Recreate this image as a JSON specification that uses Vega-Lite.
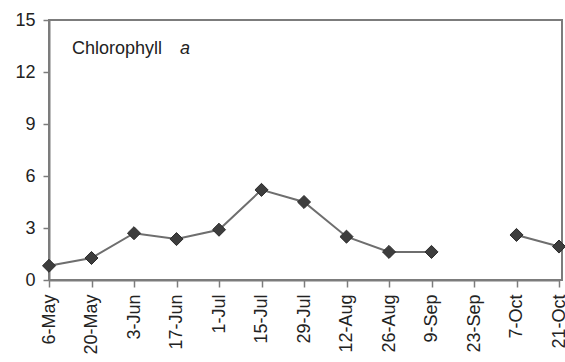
{
  "$schema": "https://vega.github.io/schema/vega-lite/v6.json",
  "width": 513,
  "height": 260,
  "autosize": {"type": "none"},
  "padding": {"left": 49, "top": 20, "right": 3, "bottom": 82},
  "background": "white",
  "config": {
    "font": "Liberation Sans",
    "view": {"stroke": "#7c7c7c", "strokeWidth": 2},
    "axis": {
      "domainColor": "#7c7c7c",
      "domainWidth": 2,
      "tickColor": "#7c7c7c",
      "tickWidth": 1.5,
      "labelColor": "#222222",
      "labelFont": "Liberation Sans",
      "labelFontSize": 18,
      "grid": false,
      "title": null
    }
  },
  "data": {
    "values": [
      {"date": "6-May", "chl": 0.82},
      {"date": "20-May", "chl": 1.27},
      {"date": "3-Jun", "chl": 2.7},
      {"date": "17-Jun", "chl": 2.36},
      {"date": "1-Jul", "chl": 2.9},
      {"date": "15-Jul", "chl": 5.2},
      {"date": "29-Jul", "chl": 4.5},
      {"date": "12-Aug", "chl": 2.5},
      {"date": "26-Aug", "chl": 1.62},
      {"date": "9-Sep", "chl": 1.62},
      {"date": "23-Sep", "chl": null},
      {"date": "7-Oct", "chl": 2.6},
      {"date": "21-Oct", "chl": 1.93}
    ]
  },
  "encoding": {
    "x": {
      "field": "date",
      "type": "ordinal",
      "sort": null,
      "scale": {
        "type": "point",
        "padding": 0,
        "domain": ["6-May", "20-May", "3-Jun", "17-Jun", "1-Jul", "15-Jul", "29-Jul", "12-Aug", "26-Aug", "9-Sep", "23-Sep", "7-Oct", "21-Oct"],
        "range": [0, 510]
      },
      "axis": {"labelAngle": -90, "tickSize": 7, "labelPadding": 7}
    },
    "y": {
      "field": "chl",
      "type": "quantitative",
      "scale": {"domain": [0, 15], "nice": false, "zero": true},
      "axis": {"values": [0, 3, 6, 9, 12, 15], "tickSize": 6, "labelPadding": 8}
    }
  },
  "layer": [
    {
      "mark": {"type": "line", "color": "#6e6e6e", "strokeWidth": 2, "invalid": "break-paths-show-domains"}
    },
    {
      "mark": {"type": "point", "shape": "diamond", "filled": true, "size": 170, "color": "#3d3d3d", "opacity": 1, "stroke": "#2a2a2a", "strokeWidth": 1}
    },
    {
      "data": {"values": [{"date": "20-May", "chl": 13.05, "label": "Chlorophyll"}]},
      "mark": {"type": "text", "align": "left", "baseline": "alphabetic", "dx": -19.5, "fontSize": 18, "font": "Liberation Sans", "color": "#222222"},
      "encoding": {"text": {"field": "label"}}
    },
    {
      "data": {"values": [{"date": "17-Jun", "chl": 13.05, "label": "a"}]},
      "mark": {"type": "text", "align": "left", "baseline": "alphabetic", "dx": 3.5, "fontSize": 18, "fontStyle": "italic", "font": "Liberation Sans", "color": "#222222"},
      "encoding": {"text": {"field": "label"}}
    }
  ]
}
